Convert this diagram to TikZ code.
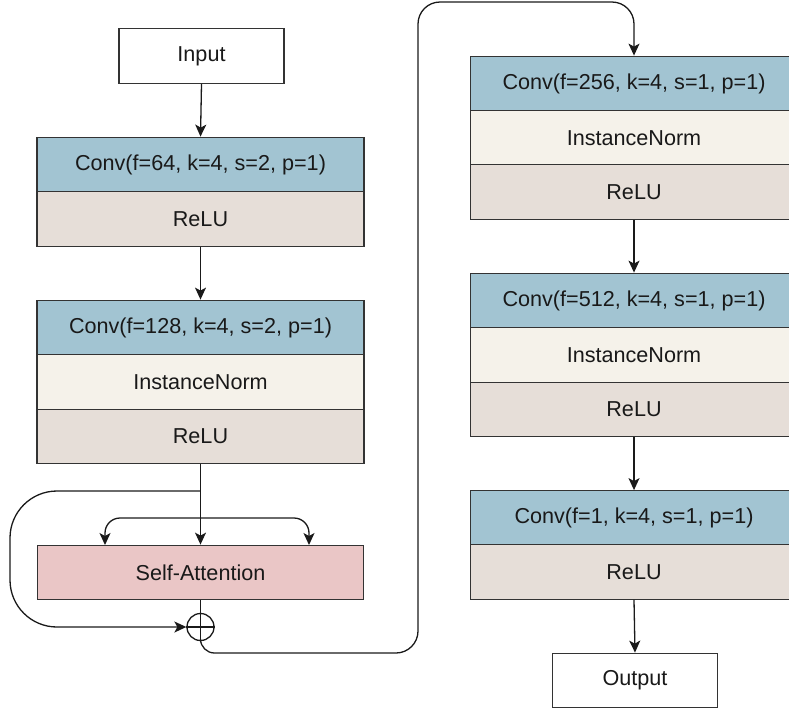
\documentclass[tikz,border=0pt]{standalone}
\usepackage{fontspec}
\setmainfont{Liberation Sans}
\usetikzlibrary{arrows.meta,calc}
\definecolor{convc}{HTML}{A2C4D2}
\definecolor{normc}{HTML}{F5F2EA}
\definecolor{reluc}{HTML}{E6DED8}
\definecolor{attc}{HTML}{EAC6C6}
\definecolor{edgec}{HTML}{333333}
\definecolor{linec}{HTML}{1A1A1A}
\tikzset{
  layer/.style={draw=edgec, line width=1.3pt, minimum width=327pt, minimum height=54.5pt, inner sep=0pt, font=\fontsize{21.6}{26}\selectfont, text=black!90},
  conv/.style={layer, fill=convc},
  norm/.style={layer, fill=normc},
  relu/.style={layer, fill=reluc},
  io/.style={layer, fill=white, minimum width=165pt},
  arr/.style={line width=1.3pt, draw=linec, -{Stealth[length=12pt,width=11pt,inset=3pt]}},
  ln/.style={line width=1.3pt, draw=linec},
}
\begin{document}
\begin{tikzpicture}[x=1pt,y=1pt]
\useasboundingbox (0,0) rectangle (789,-713);
\clip (0,0) rectangle (789,-713);
% left column
\node[io] (in) at (201.5,-56) {Input};
\node[conv] (c1) at (200.5,-164.5) {Conv(f=64, k=4, s=2, p=1)};
\node[relu] (r1) at (200.5,-219) {ReLU};
\node[conv] (c2) at (200.5,-327.5) {Conv(f=128, k=4, s=2, p=1)};
\node[norm] (n2) at (200.5,-382) {InstanceNorm};
\node[relu] (r2) at (200.5,-436.5) {ReLU};
\node[layer, fill=attc, minimum width=326pt] (sa) at (200.5,-572.5) {Self-Attention};
\node[draw=linec, line width=1.3pt, circle, minimum size=27pt, inner sep=0pt] (cp) at (200.5,-627) {};
\draw[ln] (cp.north) -- (cp.south);
\draw[ln] (cp.west) -- (cp.east);
% right column
\node[conv] (c3) at (634,-83.5) {Conv(f=256, k=4, s=1, p=1)};
\node[norm] (n3) at (634,-138) {InstanceNorm};
\node[relu] (r3) at (634,-192) {ReLU};
\node[conv] (c4) at (634,-300.5) {Conv(f=512, k=4, s=1, p=1)};
\node[norm] (n4) at (634,-355) {InstanceNorm};
\node[relu] (r4) at (634,-409.5) {ReLU};
\node[conv] (c5) at (634,-518) {Conv(f=1, k=4, s=1, p=1)};
\node[relu] (r5) at (634,-572) {ReLU};
\node[io] (out) at (635,-680.5) {Output};
% connectors
\draw[arr] (in.south) -- (c1.north);
\draw[arr] (r1.south) -- (c2.north);
\draw[arr] (r2.south) -- (sa.north);
\coordinate (s1) at (200.5,-491);
\coordinate (s2) at (200.5,-518);
\coordinate (sl) at (105,-545);
\coordinate (sr) at (309,-545);
\coordinate (k1) at (10,-491);
\coordinate (k2) at (10,-627);
\draw[arr, rounded corners=15pt] (s2) -| (sl);
\draw[arr, rounded corners=15pt] (s2) -| (sr);
\draw[arr, rounded corners=47pt] (s1) -- (k1) -- (k2) -- (cp.west);
\draw[ln] (sa.south) -- (cp.north);
\coordinate (m1) at (200.5,-653);
\coordinate (m2) at (418,-653);
\coordinate (m3) at (418,-2);
\coordinate (m4) at (634,-2);
\draw[arr, rounded corners=14pt] (cp.south) -- (m1) [rounded corners=22pt] -- (m2) -- (m3) -- (m4) -- (c3.north);
\draw[arr] (r3.south) -- (c4.north);
\draw[arr] (r4.south) -- (c5.north);
\draw[arr] (r5.south) -- (out.north);
\end{tikzpicture}
\end{document}
